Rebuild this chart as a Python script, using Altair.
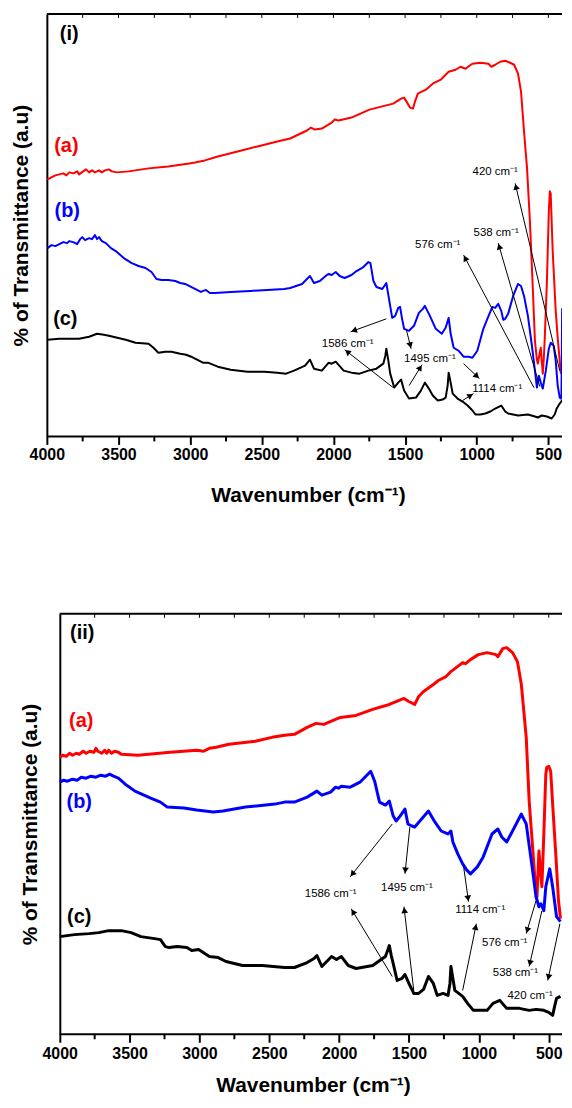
import math
import altair as alt
import pandas as pd

SERIES = ["a", "b", "c"]
COLORS = ["#ff0000", "#0000ff", "#000000"]
MAJOR = [4000, 3500, 3000, 2500, 2000, 1500, 1000, 500]
MINOR = [3750, 3250, 2750, 2250, 1750, 1250, 750]
TOPTICKS = [3750, 3500, 3250, 3000, 2750, 2500, 2250, 2000, 1750, 1500, 1250, 1000, 750, 500]

# ---------------- Panel (i) spectra ----------------
i_a_wn = [3996, 3968, 3941, 3913, 3885, 3864, 3844, 3816, 3788, 3775, 3747, 3726, 3705, 3685, 3664, 3636, 3616, 3595,
          3567, 3546, 3512, 3429, 3290, 3152, 3007, 2966, 2897, 2807, 2669, 2530, 2392, 2302, 2185, 2157, 2130, 2081,
          2012, 1991, 1964, 1874, 1749, 1666, 1583, 1528, 1507, 1486, 1466, 1445, 1431, 1411, 1355, 1307, 1251, 1231,
          1196, 1148, 1113, 1078, 1051, 1030, 975, 919, 898, 871, 836, 801, 767, 739, 712, 691, 670, 649, 629, 608,
          594, 581, 574, 560, 553, 546, 539, 532, 525, 511, 497, 490, 484, 470, 449, 435, 414, 400, 386]
i_a_t = [258, 260, 262, 263, 264, 262, 265, 264, 266, 263, 266, 268, 265, 267, 265, 267, 265, 267,
         268, 266, 265, 266, 269, 271, 274, 275, 277, 281, 286, 291, 296, 299, 307, 310, 308, 309,
         315, 318, 317, 320, 328, 331, 334, 339, 340, 335, 330, 329, 336, 344, 348, 354, 358, 361,
         366, 368, 371, 369, 372, 374, 375, 374, 371, 373, 376, 377, 375, 373, 364, 346, 306, 269, 216, 146,
         96, 78, 73, 84, 89, 75, 63, 78, 100, 153, 226, 246, 244, 186, 126, 99, 64, 71, 79]

i_b_wn = [3996, 3968, 3941, 3913, 3885, 3858, 3844, 3816, 3788, 3768, 3753, 3733, 3705, 3685, 3664, 3650, 3636, 3616,
          3588, 3553, 3519, 3463, 3408, 3360, 3311, 3270, 3235, 3200, 3152, 3104, 3069, 3035, 2980, 2925, 2890, 2862,
          2828, 2717, 2579, 2462, 2344, 2302, 2219, 2164, 2136, 2095, 2046, 2033, 2012, 1984, 1957, 1922, 1874, 1839,
          1791, 1756, 1742, 1721, 1700, 1659, 1631, 1610, 1590, 1569, 1548, 1535, 1521, 1507, 1473, 1438, 1404, 1376,
          1362, 1348, 1327, 1286, 1244, 1217, 1196, 1182, 1161, 1127, 1092, 1058, 1030, 996, 954, 926, 891, 871, 850,
          829, 815, 801, 781, 746, 712, 691, 670, 643, 615, 594, 580, 567, 553, 539, 518, 497, 484, 463, 449, 435,
          421, 414, 409, 404, 398, 393, 388, 382]
i_b_t = [189, 192, 191, 193, 195, 194, 196, 195, 193, 198, 200, 197, 199, 198, 202, 198, 200, 196,
         194, 189, 186, 179, 174, 171, 169, 165, 158, 157, 157, 156, 154, 153, 149, 145, 147, 144,
         144, 145, 146, 147, 148, 149, 153, 161, 154, 156, 162, 163, 162, 165, 161, 159, 162, 166,
         170, 175, 174, 156, 150, 148, 154, 136, 119, 121, 129, 130, 118, 108, 106, 111, 124, 128,
         131, 127, 121, 108, 103, 109, 119, 103, 89, 86, 80, 80, 79, 86, 108, 118, 130, 129, 133,
         126, 117, 118, 123, 141, 153, 151, 141, 121, 91, 66, 49, 61, 54, 48, 66, 88, 94, 91, 76, 51,
         39, 38, 40, 128, 125, 80, 130, 450]

i_c_wn = [3996, 3913, 3775, 3705, 3650, 3602, 3567, 3450, 3381, 3290, 3256, 3222, 3173, 3131, 3069, 3028, 2993, 2966,
          2911, 2876, 2842, 2807, 2717, 2600, 2482, 2392, 2330, 2275, 2198, 2164, 2136, 2081, 2033, 2012, 1984, 1929,
          1874, 1818, 1756, 1700, 1652, 1638, 1631, 1617, 1604, 1576, 1548, 1528, 1507, 1473, 1424, 1390, 1362, 1334,
          1307, 1272, 1238, 1217, 1203, 1196, 1182, 1168, 1134, 1099, 1064, 1030, 1009, 975, 940, 905, 871, 829, 801,
          781, 712, 643, 594, 574, 546, 511, 477, 456, 442, 421, 400, 386]
i_c_t = [97, 98, 98, 100, 103, 102, 101, 97, 94, 93, 89, 84, 85, 85, 83, 82, 80, 78,
         74, 74, 72, 70, 67, 65, 65, 64, 63, 66, 71, 77, 68, 66, 74, 73, 75, 66,
         64, 63, 66, 68, 73, 81, 88, 76, 63, 49, 54, 57, 46, 38, 39, 46, 54, 48,
         41, 36, 37, 39, 51, 64, 54, 43, 38, 35, 31, 26, 22, 22, 23, 25, 28, 31, 25,
         23, 21, 22, 20, 19, 21, 20, 18, 22, 28, 33, 37, 39]

# ---------------- Panel (ii) spectra ----------------
ii_a_wn = [4000, 3979, 3951, 3930, 3909, 3881, 3860, 3832, 3811, 3783, 3755, 3741, 3727, 3699, 3678, 3664, 3650, 3629,
           3608, 3580, 3559, 3440, 3209, 3020, 2971, 2929, 2880, 2789, 2600, 2481, 2390, 2320, 2229, 2166, 2110, 2026,
           1991, 1879, 1760, 1641, 1536, 1501, 1459, 1431, 1396, 1326, 1291, 1235, 1200, 1116, 1095, 1060, 1004, 941,
           878, 864, 829, 801, 759, 724, 696, 661, 640, 612, 591, 584, 570, 563, 549, 535, 521, 514, 500, 486, 472,
           451, 430, 416]
ii_a_t = [278, 280, 279, 282, 280, 282, 281, 284, 282, 284, 283, 287, 284, 282, 285, 282, 285, 282,
          284, 283, 281, 280, 283, 285, 284, 287, 288, 291, 294, 298, 300, 301, 308, 312, 311, 316,
          318, 320, 326, 331, 337, 334, 331, 339, 344, 351, 355, 359, 364, 373, 372, 376, 381, 383,
          381, 379, 387, 388, 383, 374, 351, 298, 234, 181, 141, 138, 184, 171, 148, 201, 261, 268, 269, 264, 231,
          184, 134, 116]

ii_b_wn = [4000, 3972, 3944, 3909, 3874, 3846, 3811, 3776, 3741, 3706, 3671, 3643, 3615, 3580, 3531, 3461, 3349, 3279,
           3230, 3111, 3020, 2901, 2831, 2670, 2460, 2390, 2320, 2229, 2159, 2124, 2061, 2026, 2005, 1984, 1921, 1851,
           1774, 1746, 1711, 1669, 1641, 1613, 1592, 1564, 1529, 1508, 1480, 1459, 1410, 1361, 1319, 1270, 1221, 1200,
           1186, 1151, 1116, 1088, 1060, 1011, 969, 906, 864, 836, 801, 759, 696, 661, 619, 591, 570, 556, 535, 521,
           493, 472, 444, 416]
ii_b_t = [253, 255, 254, 256, 255, 258, 257, 259, 258, 260, 259, 261, 259, 257, 251, 244, 237, 233,
          228, 227, 225, 223, 224, 228, 231, 233, 233, 238, 244, 240, 243, 248, 247, 249, 248, 253,
          264, 254, 233, 230, 234, 219, 214, 219, 226, 211, 209, 208, 216, 224, 214, 204, 201, 204,
          193, 181, 171, 165, 161, 168, 178, 201, 206, 198, 193, 204, 221, 211, 168, 138, 128, 131, 124, 148,
          166, 148, 118, 113]

ii_c_wn = [4000, 3895, 3790, 3720, 3650, 3559, 3489, 3419, 3321, 3279, 3244, 3216, 3160, 3090, 3055, 3006, 2929, 2866,
           2810, 2691, 2551, 2390, 2320, 2229, 2180, 2159, 2124, 2089, 2054, 2019, 1984, 1935, 1879, 1760, 1669, 1648,
           1641, 1627, 1613, 1585, 1550, 1529, 1501, 1466, 1431, 1396, 1361, 1326, 1298, 1256, 1221, 1207, 1200, 1186,
           1172, 1116, 1081, 1039, 990, 941, 899, 850, 801, 710, 640, 591, 535, 500, 472, 458, 444, 416]
ii_c_t = [98, 100, 101, 102, 104, 104, 102, 98, 96, 95, 88, 87, 88, 87, 84, 85, 78, 77,
          73, 69, 69, 67, 67, 72, 76, 79, 68, 73, 78, 75, 78, 69, 66, 69, 78, 86,
          89, 79, 71, 54, 56, 60, 51, 41, 41, 45, 58, 51, 39, 41, 39, 51, 68, 56,
          44, 38, 31, 24, 24, 24, 31, 34, 26, 26, 24, 25, 24, 22, 19, 28, 36, 38]

# ---------------- Annotations ----------------
i_lab_text = ["(i)", "(a)", "(b)", "(c)"]
i_lab_wn = [3844, 3864, 3858, 3871]
i_lab_t = [404, 291, 226, 118]
ii_lab_text = ["(ii)", "(a)", "(b)", "(c)"]
ii_lab_wn = [3839, 3846, 3860, 3860]
ii_lab_t = [403, 314, 233, 118]
lab_colors = ["#000000", "#ff0000", "#0000ff", "#000000"]

i_note_text = ["420 cm⁻¹", "538 cm⁻¹", "576 cm⁻¹", "1586 cm⁻¹", "1495 cm⁻¹", "1114 cm⁻¹"]
i_note_wn = [871, 864, 1272, 1901, 1327, 857]
i_note_t = [265, 204, 192, 93, 78, 48]
ii_note_text = ["1586 cm⁻¹", "1495 cm⁻¹", "1114 cm⁻¹", "576 cm⁻¹", "538 cm⁻¹", "420 cm⁻¹"]
ii_note_wn = [2061, 1515, 990, 815, 738, 633]
ii_note_t = [141, 147, 125, 92, 61, 38]

# arrows: start (wn, t) -> head (wn, t)
i_arr_wn0 = [1631, 1583, 1493, 1472, 1092, 1099, 601, 560, 421]
i_arr_t0 = [118, 49, 108, 51, 73, 36, 49, 50, 66]
i_arr_wn1 = [1880, 1922, 1458, 1382, 981, 1023, 1092, 850, 732]
i_arr_t1 = [105, 87, 88, 72, 58, 43, 182, 194, 254]
ii_arr_wn0 = [1620, 1620, 1494, 1466, 1109, 1116, 591, 549, 420]
ii_arr_t0 = [211, 58, 208, 44, 168, 44, 134, 124, 111]
ii_arr_wn1 = [1921, 1914, 1529, 1536, 1074, 1018, 661, 640, 507]
ii_arr_t1 = [158, 126, 161, 128, 133, 111, 101, 68, 54]

FONT = "Liberation Sans"
W = 517


def build_panel(spectra, xmax, xmin, ymax, H, yoff, lw, labs, notes, arrows,
                title_x, label_pad=2, title_pad=22, ytitle_pad=15):
    xs = alt.Scale(domain=[xmax, xmin], nice=False, zero=False)
    ys = alt.Scale(domain=[0, ymax], nice=False, zero=False)
    rows = []
    for s, (wn, t) in zip(SERIES, spectra):
        for w, v in zip(wn, t):
            rows.append({"wn": w, "t": v, "s": s})
    df = pd.DataFrame(rows)

    xaxis = alt.Axis(values=MAJOR, format="d", title="Wavenumber (cm⁻¹)", titleFontSize=21,
                     titleFontWeight="bold", labelFontSize=16, labelFontWeight="bold", tickSize=8, tickWidth=2,
                     tickColor="black", domain=False, labelPadding=label_pad, titlePadding=title_pad,
                     labelColor="black", titleColor="black", grid=False, labelFlush=False, labelOverlap=False,
                     titleX=title_x)
    yaxis = alt.Axis(title="% of Transmittance (a.u)", labels=False, ticks=False, grid=False,
                     domainWidth=2, domainColor="black", titleFontSize=21, titleFontWeight="bold",
                     titleColor="black", titlePadding=ytitle_pad, offset=yoff)

    def X(f):
        return alt.X(f, scale=xs, axis=xaxis)

    def Y(f):
        return alt.Y(f, scale=ys, axis=yaxis)

    lines = alt.Chart(df).mark_line(strokeWidth=lw, clip=True, strokeJoin="round").encode(
        x=X("wn:Q"), y=Y("t:Q"),
        color=alt.Color("s:N", scale=alt.Scale(domain=SERIES, range=COLORS), legend=None),
    )

    fdf = pd.DataFrame({"x": [4000], "x2": [xmin]})
    top_rule = alt.Chart(fdf).mark_rule(strokeWidth=2, color="black").encode(
        x=X("x:Q"), x2="x2:Q", y=alt.value(0))
    bot_rule = alt.Chart(fdf).mark_rule(strokeWidth=2, color="black").encode(
        x=X("x:Q"), x2="x2:Q", y=alt.value(H))

    minor = alt.Chart(pd.DataFrame({"m": MINOR})).mark_rule(strokeWidth=2, color="black").encode(
        x=X("m:Q"), y=alt.value(H), y2=alt.value(H + 5))
    topt = alt.Chart(pd.DataFrame({"m": TOPTICKS})).mark_rule(strokeWidth=1, color="black").encode(
        x=X("m:Q"), y=alt.value(0), y2=alt.value(4))

    ltext, lwn, lt = labs
    ldf = pd.DataFrame({"txt": ltext, "wn": lwn, "t": lt, "col": lab_colors})
    labels = alt.Chart(ldf).mark_text(fontSize=20, fontWeight="bold", align="center", baseline="middle").encode(
        x=X("wn:Q"), y=Y("t:Q"), text="txt:N", color=alt.Color("col:N", scale=None))

    ntext, nwn, nt = notes
    ndf = pd.DataFrame({"txt": ntext, "wn": nwn, "t": nt})
    note_marks = alt.Chart(ndf).mark_text(fontSize=11.5, align="center", baseline="middle", color="black").encode(
        x=X("wn:Q"), y=Y("t:Q"), text="txt:N")

    wn0, t0, wn1, t1 = arrows
    kx = W / (xmax - xmin)
    ky = H / ymax
    arows = []
    for a, b, c, d in zip(wn0, t0, wn1, t1):
        dx = (a - c) * kx          # screen dx (right positive)
        dy = -(d - b) * ky         # screen dy (down positive)
        L = math.hypot(dx, dy)
        ux, uy = dx / L, dy / L
        ang = math.degrees(math.atan2(ux, -uy)) % 360
        hx = c + ux * 3.5 / kx
        hy = d + uy * 3.5 / ky
        arows.append({"x1": a, "y1": b, "x2": c, "y2": d, "hx": hx, "hy": hy, "ang": ang})
    adf = pd.DataFrame(arows)
    shafts = alt.Chart(adf).mark_rule(strokeWidth=1, color="black").encode(
        x=X("x1:Q"), y=Y("y1:Q"), x2="x2:Q", y2="y2:Q")
    heads = alt.Chart(adf).mark_point(shape="triangle-up", filled=True, size=45, color="black", opacity=1).encode(
        x=X("hx:Q"), y=Y("hy:Q"), angle=alt.Angle("ang:Q", scale=None))

    return alt.layer(lines, top_rule, bot_rule, minor, topt, labels, note_marks, shafts, heads).properties(
        width=W, height=H)


top = build_panel([(i_a_wn, i_a_t), (i_b_wn, i_b_t), (i_c_wn, i_c_t)], 4000, 405, 424, 424, 0, 2,
                  (i_lab_text, i_lab_wn, i_lab_t), (i_note_text, i_note_wn, i_note_t),
                  (i_arr_wn0, i_arr_t0, i_arr_wn1, i_arr_t1), title_x=262)
bottom = build_panel([(ii_a_wn, ii_a_t), (ii_b_wn, ii_b_t), (ii_c_wn, ii_c_t)], 4092, 405, 422, 422, -13, 3,
                     (ii_lab_text, ii_lab_wn, ii_lab_t), (ii_note_text, ii_note_wn, ii_note_t),
                     (ii_arr_wn0, ii_arr_t0, ii_arr_wn1, ii_arr_t1), title_x=267, label_pad=3, title_pad=13,
                     ytitle_pad=19)

chart = alt.vconcat(top, bottom, spacing=106).properties(
    padding={"left": 2, "top": 2, "right": 0, "bottom": 0}
).configure(font=FONT).configure_view(stroke="transparent")

chart.save("out.html", embed_options={"renderer": "svg", "actions": False})
